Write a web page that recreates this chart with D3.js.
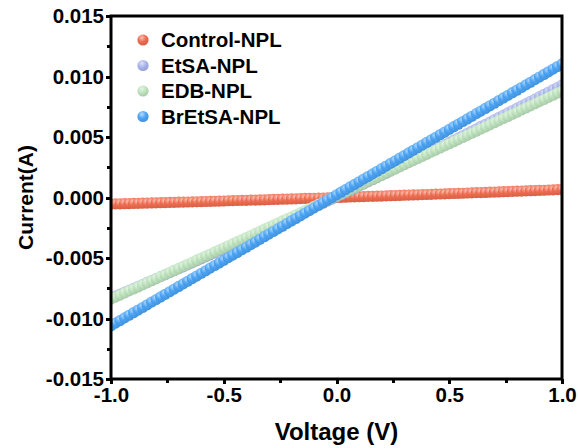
<!DOCTYPE html>
<html>
<head>
<meta charset="utf-8">
<script src="https://cdn.jsdelivr.net/npm/d3@7"></script>
<style>
  body { margin: 0; background: #fff; }
  text { font-family: 'Liberation Sans', Arial, sans-serif; font-weight: bold; }
</style>
</head>
<body>
<div id="chart"></div>
<script>
// voltage sweep (V)
const voltage = [
  -1.00, -0.98, -0.96, -0.94, -0.92, -0.90, -0.88, -0.86, -0.84, -0.82,
  -0.80, -0.78, -0.76, -0.74, -0.72, -0.70, -0.68, -0.66, -0.64, -0.62,
  -0.60, -0.58, -0.56, -0.54, -0.52, -0.50, -0.48, -0.46, -0.44, -0.42,
  -0.40, -0.38, -0.36, -0.34, -0.32, -0.30, -0.28, -0.26, -0.24, -0.22,
  -0.20, -0.18, -0.16, -0.14, -0.12, -0.10, -0.08, -0.06, -0.04, -0.02,
  0.00, 0.02, 0.04, 0.06, 0.08, 0.10, 0.12, 0.14, 0.16, 0.18,
  0.20, 0.22, 0.24, 0.26, 0.28, 0.30, 0.32, 0.34, 0.36, 0.38,
  0.40, 0.42, 0.44, 0.46, 0.48, 0.50, 0.52, 0.54, 0.56, 0.58,
  0.60, 0.62, 0.64, 0.66, 0.68, 0.70, 0.72, 0.74, 0.76, 0.78,
  0.80, 0.82, 0.84, 0.86, 0.88, 0.90, 0.92, 0.94, 0.96, 0.98,
  1.00
]

// currents in mA
const currentControl = [
  -0.54, -0.53, -0.52, -0.51, -0.50, -0.49, -0.48, -0.47, -0.46, -0.45,
  -0.44, -0.43, -0.42, -0.41, -0.40, -0.39, -0.38, -0.37, -0.36, -0.35,
  -0.34, -0.33, -0.32, -0.31, -0.30, -0.29, -0.27, -0.26, -0.25, -0.24,
  -0.23, -0.22, -0.21, -0.20, -0.19, -0.17, -0.16, -0.15, -0.14, -0.13,
  -0.12, -0.11, -0.09, -0.08, -0.07, -0.06, -0.05, -0.04, -0.02, -0.01,
  0.00, 0.01, 0.02, 0.04, 0.05, 0.06, 0.07, 0.09, 0.10, 0.11,
  0.12, 0.14, 0.15, 0.16, 0.17, 0.19, 0.20, 0.21, 0.22, 0.24,
  0.25, 0.26, 0.28, 0.29, 0.30, 0.32, 0.33, 0.34, 0.35, 0.37,
  0.38, 0.40, 0.41, 0.42, 0.44, 0.45, 0.46, 0.48, 0.49, 0.51,
  0.52, 0.53, 0.55, 0.56, 0.57, 0.59, 0.60, 0.62, 0.63, 0.65,
  0.66
]
const currentEtSA = [
  -8.30, -8.14, -7.98, -7.82, -7.67, -7.51, -7.35, -7.19, -7.02, -6.86,
  -6.70, -6.54, -6.38, -6.22, -6.05, -5.89, -5.73, -5.56, -5.40, -5.23,
  -5.07, -4.90, -4.74, -4.57, -4.40, -4.24, -4.07, -3.90, -3.74, -3.57,
  -3.40, -3.23, -3.06, -2.89, -2.72, -2.55, -2.38, -2.21, -2.04, -1.86,
  -1.69, -1.52, -1.35, -1.17, -1.00, -0.83, -0.65, -0.48, -0.30, -0.13,
  0.05, 0.23, 0.40, 0.58, 0.76, 0.94, 1.11, 1.29, 1.47, 1.65,
  1.83, 2.01, 2.19, 2.37, 2.55, 2.73, 2.91, 3.09, 3.28, 3.46,
  3.64, 3.83, 4.01, 4.19, 4.38, 4.56, 4.75, 4.93, 5.12, 5.31,
  5.49, 5.68, 5.87, 6.05, 6.24, 6.43, 6.62, 6.81, 7.00, 7.19,
  7.38, 7.57, 7.76, 7.95, 8.14, 8.34, 8.53, 8.72, 8.91, 9.11,
  9.30
]
const currentEDB = [
  -8.40, -8.23, -8.06, -7.89, -7.72, -7.56, -7.39, -7.22, -7.05, -6.88,
  -6.71, -6.54, -6.37, -6.20, -6.03, -5.86, -5.69, -5.52, -5.35, -5.18,
  -5.01, -4.84, -4.67, -4.50, -4.33, -4.16, -3.99, -3.82, -3.65, -3.48,
  -3.31, -3.14, -2.97, -2.80, -2.62, -2.45, -2.28, -2.11, -1.94, -1.77,
  -1.60, -1.43, -1.25, -1.08, -0.91, -0.74, -0.57, -0.40, -0.22, -0.05,
  0.12, 0.29, 0.46, 0.64, 0.81, 0.98, 1.15, 1.33, 1.50, 1.67,
  1.84, 2.02, 2.19, 2.36, 2.53, 2.71, 2.88, 3.05, 3.23, 3.40,
  3.57, 3.75, 3.92, 4.09, 4.27, 4.44, 4.61, 4.79, 4.96, 5.14,
  5.31, 5.48, 5.66, 5.83, 6.01, 6.18, 6.35, 6.53, 6.70, 6.88,
  7.05, 7.23, 7.40, 7.58, 7.75, 7.93, 8.10, 8.28, 8.45, 8.63,
  8.80
]
const currentBrEtSA = [
  -10.60, -10.38, -10.17, -9.95, -9.73, -9.52, -9.30, -9.09, -8.87, -8.65,
  -8.44, -8.22, -8.00, -7.79, -7.57, -7.35, -7.14, -6.92, -6.70, -6.49,
  -6.27, -6.06, -5.84, -5.62, -5.41, -5.19, -4.97, -4.76, -4.54, -4.32,
  -4.11, -3.89, -3.68, -3.46, -3.24, -3.03, -2.81, -2.59, -2.38, -2.16,
  -1.94, -1.73, -1.51, -1.29, -1.08, -0.86, -0.65, -0.43, -0.21, 0.00,
  0.22, 0.44, 0.65, 0.87, 1.08, 1.30, 1.52, 1.73, 1.95, 2.17,
  2.38, 2.60, 2.82, 3.03, 3.25, 3.46, 3.68, 3.90, 4.11, 4.33,
  4.55, 4.76, 4.98, 5.20, 5.41, 5.63, 5.85, 6.06, 6.28, 6.49,
  6.71, 6.93, 7.14, 7.36, 7.58, 7.79, 8.01, 8.23, 8.44, 8.66,
  8.87, 9.09, 9.31, 9.52, 9.74, 9.96, 10.17, 10.39, 10.61, 10.82,
  11.04
]

const seriesNames = ['Control-NPL', 'EtSA-NPL', 'EDB-NPL', 'BrEtSA-NPL']
const xTicks = [-1.0, -0.5, 0.0, 0.5, 1.0]
const xMinorTicks = [-0.75, -0.25, 0.25, 0.75]
const yTicks = [-0.015, -0.010, -0.005, 0.000, 0.005, 0.010, 0.015]
const yMinorTicks = [-0.0125, -0.0075, -0.0025, 0.0025, 0.0075, 0.0125]

const colors = ['#EF6C4F', '#A9B5EC', '#BFE4BF', '#4CA5F6']
const series = [currentControl, currentEtSA, currentEDB, currentBrEtSA].map((cur, i) => ({
  name: seriesNames[i],
  color: colors[i],
  points: voltage.map((v, j) => ({v: v, i: cur[j] / 1000}))
}))

const W = 578, H = 448
const margin = {top: 16, right: 16, bottom: 69, left: 111}
const width = W - margin.left - margin.right,
  height = H - margin.top - margin.bottom

const svg = d3.select('#chart').append('svg')
  .attr('width', W)
  .attr('height', H)

const defs = svg.append('defs')
series.forEach((s, i) => {
  const c = d3.color(s.color)
  const grad = defs.append('radialGradient')
    .attr('id', `ball${i}`)
    .attr('cx', '40%').attr('cy', '30%').attr('r', '65%')
  grad.append('stop').attr('offset', '0%').attr('stop-color', d3.interpolateRgb(c, '#fff')(0.6))
  grad.append('stop').attr('offset', '55%').attr('stop-color', c.formatHex())
  grad.append('stop').attr('offset', '100%').attr('stop-color', c.darker(0.3).formatHex())
})
defs.append('clipPath').attr('id', 'plot-clip')
  .append('rect').attr('width', width).attr('height', height)

const xScale = d3.scaleLinear().domain([-1, 1]).range([0, width])
const yScale = d3.scaleLinear().domain([-0.015, 0.015]).range([height, 0])
const hyphen = fmt => d => fmt(d).replace('\u2212', '-')

const g = svg.append('g')
  .attr('transform', `translate(${margin.left}, ${margin.top})`)

// markers
const plotG = g.append('g').attr('clip-path', 'url(#plot-clip)')
series.forEach((s, i) => {
  plotG.append('g').selectAll('circle').data(s.points)
    .enter().append('circle')
    .attr('cx', d => xScale(d.v))
    .attr('cy', d => yScale(d.i))
    .attr('r', 5.6)
    .attr('fill', `url(#ball${i})`)
})

// axes
g.append('g')
  .attr('transform', `translate(0, ${height})`)
  .call(d3.axisBottom(xScale).tickValues(xTicks).tickFormat(hyphen(d3.format('.1f'))).tickSize(5).tickPadding(3))
g.append('g')
  .attr('transform', `translate(0, ${height})`)
  .call(d3.axisBottom(xScale).tickValues(xMinorTicks).tickFormat('').tickSize(4))
g.append('g')
  .call(d3.axisLeft(yScale).tickValues(yTicks).tickFormat(hyphen(d3.format('.3f'))).tickSize(5).tickPadding(2))
g.append('g')
  .call(d3.axisLeft(yScale).tickValues(yMinorTicks).tickFormat('').tickSize(4))

g.selectAll('.domain').remove()
g.selectAll('.tick line')
  .attr('stroke', '#000')
  .attr('stroke-width', 3)
  .attr('shape-rendering', 'crispEdges')
g.selectAll('.tick text')
  .attr('fill', '#000')
  .style('font-size', '20.5px')
  .style('font-family', "'Liberation Sans', Arial, sans-serif")
  .style('font-weight', 'bold')

// frame
g.append('rect')
  .attr('width', width)
  .attr('height', height)
  .attr('fill', 'none')
  .attr('stroke', '#000')
  .attr('stroke-width', 3)

// axis titles
svg.append('text')
  .text('Voltage (V)')
  .attr('x', margin.left + width / 2)
  .attr('y', 440)
  .style('text-anchor', 'middle')
  .style('font-size', '24px')
svg.append('text')
  .text('Current(A)')
  .attr('transform', `translate(33, ${margin.top + height / 2}) rotate(-90)`)
  .style('text-anchor', 'middle')
  .style('font-size', '21px')

// legend
const legendG = svg.append('g').attr('transform', 'translate(143, 40)')
const legendItem = legendG.selectAll('.legend').data(series)
  .enter().append('g')
  .attr('transform', (d, i) => `translate(0, ${i * 25.5})`)
legendItem.append('circle')
  .attr('r', 5.6)
  .attr('fill', (d, i) => `url(#ball${i})`)
legendItem.append('text')
  .text(d => d.name)
  .attr('x', 18)
  .attr('dy', '0.35em')
  .style('font-size', '20.5px')
</script>
</body>
</html>
